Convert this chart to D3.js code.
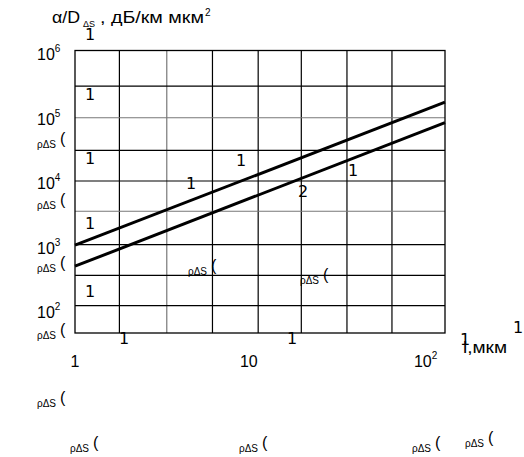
<!DOCTYPE html>
<html>
<head>
<meta charset="utf-8">
<script src="https://cdn.jsdelivr.net/npm/d3@7"></script>
<style>
  body { margin: 0; background: #fff; }
  text { font-family: "Liberation Sans", Arial, sans-serif; fill: #000; }
  .mark { font-family: "DejaVu Sans", sans-serif; font-size: 16px; }
</style>
</head>
<body>
<div id="chart"></div>
<script>
// the two lines, [l in мкм, α/D in дБ/км мкм²]
var line1 = [[1, 1100], [134, 180000]];
var line2 = [[1, 520], [134, 87000]];

// tick labels
var xTicks = [1, 10, 100];
var xTickText = ["1", "10", "10"];
var xTickSup = ["", "", "2"];
var yTicks = [1e6, 1e5, 1e4, 1e3, 1e2];
var yTickSup = ["6", "5", "4", "3", "2"];

// grid lines as drawn (not on decades)
var gridX = [1.8, 3.37, 6.17, 11.3, 20, 36.6, 66.4];
var gridXGray = [3.37];
var gridY = [319000, 103500, 32400, 10860, 3690, 1120, 374, 128];
var gridYGray = [103500, 3690];

// stray marks from the source picture: [x, y] in pixels of the page
var ones = [[85, 40], [85, 100], [85, 164], [85, 229], [85, 297], [119, 344], [287, 344],
            [236, 166], [186, 189], [348, 176], [513, 333], [460, 345]];
var twos = [[298, 197]];
var rhoLabels = [[37, 148], [37, 209], [37, 272], [37, 339], [37, 407],
                 [70, 452], [239, 452], [412, 452], [465, 447], [188, 275], [300, 284]];

var margin = {top: 50.5, right: 79, bottom: 124, left: 75},
    width = 524 - margin.left - margin.right,
    height = 457 - margin.top - margin.bottom;

var svg = d3.select("#chart")
  .append("svg")
    .attr("width", 524)
    .attr("height", 457);

svg.append("rect")
  .attr("width", 524)
  .attr("height", 457)
  .attr("fill", "#fff");

var g = svg.append("g")
  .attr("transform", "translate(" + margin.left + "," + margin.top + ")");

// log scales
var x = d3.scaleLog()
  .domain([1, 134])
  .range([0, width]);
var y = d3.scaleLog()
  .domain([Math.pow(10, 1.682), Math.pow(10, 6.056)])
  .range([height, 0]);

// grid
g.selectAll("vgrid")
  .data(gridX)
  .enter()
  .append("line")
    .attr("x1", function(d) { return x(d) })
    .attr("x2", function(d) { return x(d) })
    .attr("y1", 0)
    .attr("y2", height)
    .attr("stroke", function(d) { return gridXGray.indexOf(d) >= 0 ? "#777" : "#000" })
    .attr("stroke-width", 1.2);

g.selectAll("hgrid")
  .data(gridY)
  .enter()
  .append("line")
    .attr("x1", 0)
    .attr("x2", width)
    .attr("y1", function(d) { return y(d) })
    .attr("y2", function(d) { return y(d) })
    .attr("stroke", function(d) { return gridYGray.indexOf(d) >= 0 ? "#777" : "#000" })
    .attr("stroke-width", 1.2);

g.append("rect")
  .attr("width", width)
  .attr("height", height)
  .attr("fill", "none")
  .attr("stroke", "#000")
  .attr("stroke-width", 1.3);

// the lines
var line = d3.line()
  .x(function(d) { return x(d[0]) })
  .y(function(d) { return y(d[1]) });
g.selectAll("myLines")
  .data([line1, line2])
  .enter()
  .append("path")
    .attr("d", function(d) { return line(d) })
    .attr("stroke", "#000")
    .attr("stroke-width", 3)
    .attr("fill", "none");

// y tick labels
var yl = svg.selectAll("ylab")
  .data(yTicks)
  .enter()
  .append("text")
    .attr("x", 37)
    .attr("y", function(d) { return margin.top + y(d) + 6 })
    .style("font-size", "16px");
yl.append("tspan").text("10");
yl.append("tspan")
  .attr("dy", -8)
  .style("font-size", "10px")
  .text(function(d, i) { return yTickSup[i] });

// x tick labels
var xl = svg.selectAll("xlab")
  .data(xTicks)
  .enter()
  .append("text")
    .attr("x", function(d, i) { return margin.left + x(d) - (xTickText[i].length * 4.5) })
    .attr("y", 367)
    .style("font-size", "16px");
xl.append("tspan").text(function(d, i) { return xTickText[i] });
xl.append("tspan")
  .attr("dy", -8)
  .style("font-size", "10px")
  .text(function(d, i) { return xTickSup[i] });

// axis titles
svg.append("text")
  .attr("x", 52).attr("y", 23)
  .attr("textLength", 28).attr("lengthAdjust", "spacingAndGlyphs")
  .style("font-size", "16px")
  .text("\u03b1/D");
svg.append("text")
  .attr("x", 83).attr("y", 27)
  .style("font-size", "9px")
  .text("\u0394S");
svg.append("text")
  .attr("x", 100).attr("y", 23)
  .attr("textLength", 104).attr("lengthAdjust", "spacingAndGlyphs")
  .style("font-size", "16px")
  .text(", дБ/км мкм");
svg.append("text")
  .attr("x", 205).attr("y", 16)
  .style("font-size", "10px")
  .text("2");

svg.append("text")
  .attr("x", 463)
  .attr("y", 353)
  .attr("textLength", 44).attr("lengthAdjust", "spacingAndGlyphs")
  .style("font-size", "16px")
  .text("l,мкм");

// stray marks
svg.selectAll("ones")
  .data(ones)
  .enter()
  .append("text")
    .attr("class", "mark")
    .attr("x", function(d) { return d[0] })
    .attr("y", function(d) { return d[1] })
    .text("1");
svg.selectAll("twos")
  .data(twos)
  .enter()
  .append("text")
    .attr("class", "mark")
    .attr("x", function(d) { return d[0] })
    .attr("y", function(d) { return d[1] })
    .text("2");

var rl = svg.selectAll("rho")
  .data(rhoLabels)
  .enter()
  .append("g");
rl.append("text")
  .attr("x", function(d) { return d[0] })
  .attr("y", function(d) { return d[1] })
  .style("font-size", "10px")
  .text("\u03c1\u0394S");
rl.append("text")
  .attr("x", function(d) { return d[0] + 23 })
  .attr("y", function(d) { return d[1] - 4 })
  .style("font-size", "16px")
  .text("(");
</script>
</body>
</html>
